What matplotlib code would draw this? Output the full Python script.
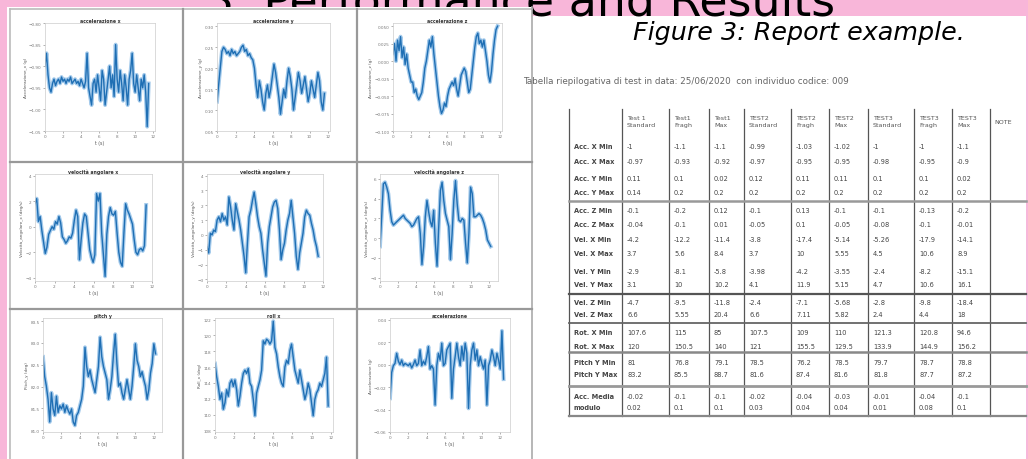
import numpy as np
import matplotlib.pyplot as plt
from matplotlib.patches import Rectangle
from matplotlib.lines import Line2D

W, H = 1028, 460
PINK = '#f8b6d9'
BLUE = '#1f6fb4'

# signals
acc_x = [-0.90, -0.87, -0.92, -0.95,
         -0.96, -0.94, -0.93, -0.945, -0.935, -0.93, -0.94, -0.925, -0.935, -0.93, -0.94, -0.93,
         -0.935, -0.925, -0.94, -0.935, -0.93, -0.94, -0.935, -0.945, -0.93, -0.94, -0.95, -0.935,
         -0.87, -0.95, -0.97, -0.99, -0.94, -0.93, -0.96, -0.92, -0.95, -0.98, -0.91, -0.93,
         -0.99, -0.96, -0.93, -0.90, -0.95, -0.92, -0.97, -0.85, -0.93, -0.96, -0.91, -0.94,
         -0.98, -0.92, -0.95, -0.99, -0.93, -0.91, -0.87, -0.94, -0.96, -0.92, -0.95, -0.98,
         -0.93, -0.95, -0.92, -0.96, -1.04, -0.94]
acc_y = [0.12, 0.16, 0.20, 0.24,
         0.25, 0.245, 0.235, 0.24, 0.23, 0.245, 0.235, 0.24, 0.23, 0.235, 0.24, 0.25, 0.255,
         0.24, 0.245, 0.23, 0.235, 0.225, 0.22,
         0.20, 0.16, 0.13, 0.17, 0.15, 0.12, 0.10, 0.14, 0.16, 0.13, 0.15, 0.18, 0.21, 0.19,
         0.16, 0.13, 0.09, 0.12, 0.15, 0.13, 0.17, 0.20, 0.18, 0.15, 0.10, 0.13, 0.16, 0.19,
         0.17, 0.14, 0.16, 0.18, 0.15, 0.12, 0.14, 0.17, 0.15, 0.13, 0.16, 0.19, 0.17, 0.12,
         0.10, 0.14]
acc_z = [0.01, 0.025, 0.0, 0.03, 0.015, 0.035, 0.005,
         0.02, -0.005, 0.01, -0.01, -0.02, -0.03,
         -0.03, -0.045, -0.04, -0.05, -0.055, -0.05, -0.045,
         -0.03, -0.01, 0.0, 0.015, 0.03, 0.02, 0.035,
         0.01, -0.01, -0.03, -0.05, -0.065, -0.075, -0.07,
         -0.06, -0.065, -0.05, -0.04, -0.035, -0.03, -0.035,
         -0.025, -0.04, -0.05, -0.035, -0.02, -0.015, -0.01,
         -0.015, -0.03, -0.045, -0.04, -0.02, 0.0, 0.02,
         0.035, 0.04, 0.025, 0.03, 0.02, 0.03, 0.015,
         0.0, -0.02, -0.03, -0.015, 0.01, 0.03, 0.045, 0.05]
vel_x = [1.8, 2.2, 0.4, 0.8, -0.3, -1.2, -2.1, -1.6, -0.6, -0.3, 0.0, -0.2, 0.4, 0.2, 0.8,
         0.3, -0.8, -1.0, -1.3, -1.1, -0.8, -0.9, -0.5, 0.5, 1.3, 0.8, -2.6, -1.0, 0.3, 1.0,
         0.8, -0.5, -1.8, -2.4, -2.8, -2.2, 2.6, 2.0, 2.6, -0.5, -2.2, -3.9, -0.6, 0.8, 1.5,
         1.0, 0.9, 1.2, -0.5, -2.0, -2.8, -3.1, -0.5, 1.8, 1.3, 1.0, 0.6, 0.2, -1.0, -2.0,
         -2.2, -1.8, -1.7, -1.9, -1.5, 1.7]
vel_y = [-0.78, -1.22, 0.11, 0.0, 0.33, 0.22, 1.0, 1.22, 0.89, 1.44, 1.0, 1.22, 0.67, 2.56,
         1.89, 1.0, 0.33, 2.11, 1.56, 1.0, 0.33, -0.56, -1.44, -2.56, -0.56, 1.22, 1.67, 2.33,
         2.89, 2.11, 1.22, 0.56, 0.11, -1.0, -1.89, -2.78, -0.56, 0.56, 1.22, 1.89, 2.22, 2.33,
         1.78, 0.33, -1.67, -1.0, -0.56, 0.33, 1.0, 1.44, 2.33, 1.22, 0.11, -1.44, -2.33, -1.22,
         -0.56, 0.11, 1.22, 1.67, 1.44, 1.33, 0.78, 0.33, -0.33, -0.78, -1.44]
vel_z = [-0.83, 2.17, 5.5, 5.67, 5.17, 4.5, 2.83, 1.67, 1.33, 1.5, 1.67, 1.83, 2.0, 2.17, 2.33,
         2.0, 1.83, 1.67, 1.5, 1.17, 1.33, 1.67, 2.0, 2.17, 0.5, -2.67, -0.83, 2.17, 3.83, 2.67,
         1.67, 1.17, 2.83, -0.5, -2.83, 1.17, 4.83, 5.67, 3.83, 2.5, 1.83, 1.17, -2.17, 0.5,
         3.83, 5.83, 3.5, 1.83, 1.67, 2.0, 1.83, -0.5, -2.5, 0.5, 5.17, 4.5, 2.17, 2.17, 2.33,
         2.5, 2.33, 2.0, 1.5, 0.83, -0.17, -0.5, -0.83]
pitch_y = [82.68, 82.23, 82.01, 81.71, 81.19, 81.86, 81.49, 81.34, 81.78, 81.41, 81.56, 81.49,
           81.6, 81.41, 81.56, 81.45, 81.37, 81.49, 81.19, 81.11, 81.34, 81.41, 81.56, 81.71,
           82.01, 82.9, 82.46, 82.23, 82.38, 82.16, 82.01, 81.86, 82.16, 82.46, 83.13, 82.68,
           82.46, 82.31, 82.16, 81.71, 81.93, 82.23, 82.75, 83.2, 82.53, 82.01, 82.08, 81.86,
           81.71, 81.93, 82.16, 81.93, 81.71, 82.01, 82.46, 82.98, 82.6, 82.46, 82.23, 82.34,
           82.16, 82.01, 81.71, 81.93, 82.31, 82.53, 82.98, 82.75]
roll_x = [116.44, 114.79, 113.56, 111.91, 112.73, 110.67, 111.5, 113.14, 112.32, 113.97,
          114.38, 113.56, 114.38, 113.14, 111.09, 112.32, 113.97, 115.2, 115.61, 115.2, 115.82,
          113.97, 113.56, 111.91, 109.85, 112.73, 113.56, 114.38, 115.61, 119.32, 118.91,
          119.52, 119.32, 118.91, 119.32, 121.79, 118.49, 117.67, 116.02, 114.79, 113.97,
          113.56, 116.02, 116.85, 116.44, 118.08, 118.91, 117.26, 115.61, 114.79, 113.97,
          115.61, 114.38, 113.14, 111.91, 112.73, 113.97, 113.14, 111.5, 109.85, 111.91,
          112.73, 113.14, 113.97, 113.56, 114.38, 115.2, 117.26, 111.09]
acc_mod = [-0.030, -0.007, -0.001, 0.001, 0.010, 0.003, 0.0, 0.004, -0.001, 0.001, 0.0, -0.001,
           0.001, -0.003, 0.0, 0.004, -0.001, 0.001, 0.013, -0.001, 0.003, 0.0, 0.007, 0.016,
           -0.004, -0.001, -0.004, -0.036, -0.001, 0.010, 0.004, 0.019, -0.001, 0.001, 0.013,
           0.016, 0.019, -0.030, -0.004, 0.007, 0.019, 0.007, -0.001, 0.016, 0.004, 0.019, 0.010,
           -0.039, -0.001, 0.013, 0.019, 0.004, 0.013, -0.001, 0.007, 0.001, -0.004, 0.004,
           -0.036, -0.001, 0.004, 0.013, 0.007, -0.001, 0.010, 0.004, -0.004, 0.030, -0.013]

signals = [acc_x, acc_y, acc_z, vel_x, vel_y, vel_z, pitch_y, roll_x, acc_mod]
t_end = [11.5, 11.6, 11.7, 11.4, 11.5, 12.2, 12.2, 11.7, 12.4]
titles = ['accelerazione x', 'accelerazione y', 'accelerazione z',
          'velocità angolare x', 'velocità angolare y', 'velocità angolare z',
          'pitch y', 'roll x', 'accelerazione']
ylabels = ['Accelerazione_x (g)', 'Accelerazione_y (g)', 'Accelerazione_z (g)',
           'Velocità_angolare_x (deg/s)', 'Velocità_angolare_y (deg/s)',
           'Velocità_angolare_z (deg/s)', 'Pitch_y (deg)', 'Roll_x (deg)', 'Accelerazione (g)']
ylims = [(-1.05, -0.8), (0.05, 0.308), (-0.1, 0.0545), (-4.26, 4.13), (-3.11, 4.11),
         (-4.33, 6.5), (80.96, 83.57), (107.8, 122.2), (-0.0586, 0.0414)]
yticks = [np.arange(-1.05, -0.79, 0.05), np.arange(0.05, 0.31, 0.05), np.arange(-0.1, 0.06, 0.025),
          [-4, -2, 0, 2, 4], [-3, -2, -1, 0, 1, 2, 3, 4], [-4, -2, 0, 2, 4, 6],
          [81, 81.5, 82, 82.5, 83, 83.5], [108, 110, 112, 114, 116, 118, 120, 122],
          [-0.06, -0.04, -0.02, 0, 0.02, 0.04]]
xmax = [12.2, 12.2, 12.2, 12.0, 12.0, 13.0, 12.9, 12.2, 13.1]

# report table
title_line = 'Tabella riepilogativa di test in data: 25/06/2020  con individuo codice: 009'
col_heads = ['Test 1\nStandard', 'Test1\nFragh', 'Test1\nMax', 'TEST2\nStandard', 'TEST2\nFragh',
             'TEST2\nMax', 'TEST3\nStandard', 'TEST3\nFragh', 'TEST3\nMax', 'NOTE']
row_names = ['Acc. X Min', 'Acc. X Max', 'Acc. Y Min', 'Acc. Y Max', 'Acc. Z Min', 'Acc. Z Max',
             'Vel. X Min', 'Vel. X Max', 'Vel. Y Min', 'Vel. Y Max', 'Vel. Z Min', 'Vel. Z Max',
             'Rot. X Min', 'Rot. X Max', 'Pitch Y Min', 'Pitch Y Max', 'Acc. Media', 'modulo']
table_vals = [
    ['-1', '-1.1', '-1.1', '-0.99', '-1.03', '-1.02', '-1', '-1', '-1.1'],
    ['-0.97', '-0.93', '-0.92', '-0.97', '-0.95', '-0.95', '-0.98', '-0.95', '-0.9'],
    ['0.11', '0.1', '0.02', '0.12', '0.11', '0.11', '0.1', '0.1', '0.02'],
    ['0.14', '0.2', '0.2', '0.2', '0.2', '0.2', '0.2', '0.2', '0.2'],
    ['-0.1', '-0.2', '0.12', '-0.1', '0.13', '-0.1', '-0.1', '-0.13', '-0.2'],
    ['-0.04', '-0.1', '0.01', '-0.05', '0.1', '-0.05', '-0.08', '-0.1', '-0.01'],
    ['-4.2', '-12.2', '-11.4', '-3.8', '-17.4', '-5.14', '-5.26', '-17.9', '-14.1'],
    ['3.7', '5.6', '8.4', '3.7', '10', '5.55', '4.5', '10.6', '8.9'],
    ['-2.9', '-8.1', '-5.8', '-3.98', '-4.2', '-3.55', '-2.4', '-8.2', '-15.1'],
    ['3.1', '10', '10.2', '4.1', '11.9', '5.15', '4.7', '10.6', '16.1'],
    ['-4.7', '-9.5', '-11.8', '-2.4', '-7.1', '-5.68', '-2.8', '-9.8', '-18.4'],
    ['6.6', '5.55', '20.4', '6.6', '7.11', '5.82', '2.4', '4.4', '18'],
    ['107.6', '115', '85', '107.5', '109', '110', '121.3', '120.8', '94.6'],
    ['120', '150.5', '140', '121', '155.5', '129.5', '133.9', '144.9', '156.2'],
    ['81', '76.8', '79.1', '78.5', '76.2', '78.5', '79.7', '78.7', '78.8'],
    ['83.2', '85.5', '88.7', '81.6', '87.4', '81.6', '81.8', '87.7', '87.2'],
    ['-0.02', '-0.1', '-0.1', '-0.02', '-0.04', '-0.03', '-0.01', '-0.04', '-0.1'],
    ['0.02', '0.1', '0.1', '0.03', '0.04', '0.04', '0.01', '0.08', '0.1'],
]

# layout in pixels, origin top-left
axes_px = [(45, 24, 155, 132), (217, 24, 330, 132), (393, 24, 502, 132),
           (35, 175, 152, 282), (207, 175, 323, 282), (380, 175, 498, 282),
           (43, 319, 162, 433), (215, 319, 333, 433), (390, 319, 510, 433)]
row_y = [147, 162, 179, 193, 211, 225, 240, 254, 272, 285, 303, 315, 333, 347, 363, 375, 397, 408]
col_x = [569, 622, 669, 709, 744, 791, 829, 868, 914, 952, 990]


def fx(x):
    return x / W


def fy(y):
    return 1 - y / H


fig = plt.figure(figsize=(W / 100, H / 100), dpi=100, facecolor=PINK)


def line(x0, y0, x1, y1, color, lw, z=6):
    fig.add_artist(Line2D([fx(x0), fx(x1)], [fy(y0), fy(y1)], transform=fig.transFigure,
                          color=color, lw=lw, zorder=z))


# headline, partly hidden behind the screenshot of the plots
fig.text(fx(520), fy(16), '3. Performance and Results', fontsize=33, ha='center',
         va='baseline', color='black', zorder=1)

# white panels: report on the right, plot screenshot on the left (on top of the headline)
fig.add_artist(Rectangle((fx(532), 0), fx(1026) - fx(532), fy(17), transform=fig.transFigure,
                         facecolor='white', edgecolor='none', zorder=0))
fig.add_artist(Rectangle((fx(7), 0), fx(532) - fx(7), fy(8), transform=fig.transFigure,
                         facecolor='white', edgecolor='none', zorder=4))
line(10, 10, 532, 10, '#bbbbbb', 1.2)
line(10, 10, 10, 460, '#bbbbbb', 1.2)
line(532, 8, 532, 460, '#aaaaaa', 1.2)
for xx in [183, 357]:
    line(xx, 10, xx, 460, '#999999', 1.6)
for yy in [163, 310]:
    line(10, yy, 532, yy, '#999999', 1.6)

# nine small plots
for i, vals in enumerate(signals):
    x0, y0, x1, y1 = axes_px[i]
    ax = fig.add_axes([fx(x0), fy(y1), fx(x1) - fx(x0), fy(y0) - fy(y1)])
    ax.set_zorder(5)
    t = np.linspace(0, t_end[i], len(vals))
    ax.plot(t, vals, color='#8dbde6', lw=2.8, alpha=0.8)
    ax.plot(t, vals, color=BLUE, lw=1.0)
    ax.set_xlim(0, xmax[i])
    ax.set_ylim(*ylims[i])
    ax.set_xticks(range(0, 13, 2))
    ax.set_yticks(yticks[i])
    ax.tick_params(labelsize=3, colors='#777777', length=1.5, width=0.4, pad=1)
    for s in ax.spines.values():
        s.set_color('#cccccc')
        s.set_linewidth(0.5)
    ax.set_title(titles[i], fontsize=3.3, fontweight='bold', color='#333333', pad=0.5)
    ax.set_xlabel('t (s)', fontsize=3.3, color='#555555', labelpad=1)
    ax.set_ylabel(ylabels[i], fontsize=3.0, color='#555555', labelpad=1)

# caption and table
fig.text(fx(633), fy(40), 'Figure 3: Report example.', fontsize=18.3, style='italic',
         ha='left', va='baseline', color='black', zorder=7)
fig.text(fx(523), fy(82), title_line, fontsize=6.3, ha='left', va='center', color='#666666',
         zorder=7)

for xx in col_x:
    line(xx, 110, xx, 417, '#555555', 0.9)
for yy, c, lw in [(202, '#999999', 1.8), (295, '#555555', 1.6), (324, '#666666', 1.3),
                  (353, '#888888', 1.8), (387, '#999999', 2.0), (417, '#888888', 1.6)]:
    line(569, yy, 1026, yy, c, lw)

for j, head in enumerate(col_heads):
    fig.text(fx(col_x[j + 1] + 5) if j < 9 else fx(col_x[-1] + 4), fy(122), head,
             fontsize=4.6, ha='left', va='center', color='#555555', linespacing=1.5, zorder=7)
for r, name in enumerate(row_names):
    fig.text(fx(574), fy(row_y[r]), name, fontsize=4.8, fontweight='bold', ha='left',
             va='center', color='#444444', zorder=7)
    for c, v in enumerate(table_vals[r]):
        fig.text(fx(col_x[c + 1] + 5), fy(row_y[r]), v, fontsize=4.8, ha='left',
                 va='center', color='#444444', zorder=7)

fig.savefig('out.png', dpi=100, facecolor=PINK)
